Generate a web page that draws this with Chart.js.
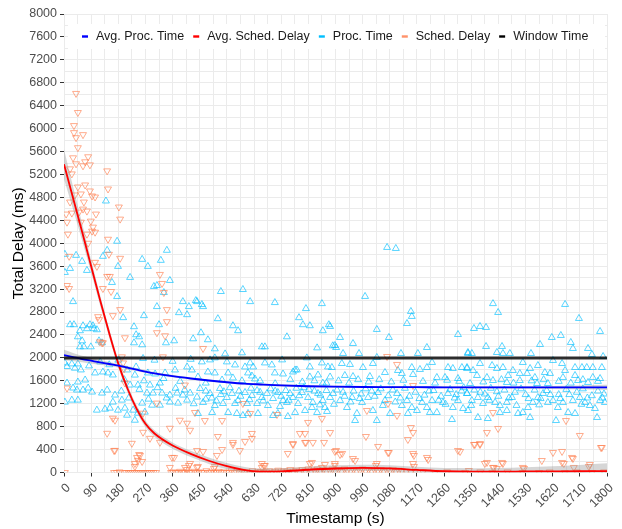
<!DOCTYPE html>
<html>
<head>
<meta charset="utf-8">
<script src="https://cdn.jsdelivr.net/npm/chart.js@4/dist/chart.umd.min.js"></script>
<style>
html,body{margin:0;padding:0;background:#fff;}
#wrap{width:622px;height:529px;position:relative;}
</style>
</head>
<body>
<div id="wrap"><canvas id="c" width="622" height="529"></canvas></div>
<script>
// ---------- DATA ----------
const seriesNames = ["Avg. Proc. Time", "Avg. Sched. Delay", "Proc. Time", "Sched. Delay", "Window Time"];
const windowTime = 2000;
const xTickStep = 90;
const yTickStep = 400;

const smoothTs = [0,30,60,90,120,150,180,210,240,270,300,360,420,480,540,600,660,720,810,900,990,1080,1170,1260,1350,1440,1530,1620,1710,1800];
const avgSchedDelay = [5380,4790,4200,3600,3000,2430,1900,1470,1120,850,680,470,325,205,110,42,14,18,48,70,80,72,45,22,15,15,18,20,22,25];
const avgSchedSE = [260,200,150,110,90,75,70,65,60,58,56,55,55,55,55,55,55,55,55,55,55,55,55,55,60,65,75,90,110,135];
const avgProcTime = [2050,2015,1980,1950,1920,1893,1865,1830,1795,1760,1730,1680,1640,1605,1575,1550,1535,1520,1505,1497,1492,1490,1488,1487,1486,1485,1485,1485,1485,1485];
const avgProcSE = [90,70,58,50,42,36,32,28,25,23,22,20,19,18,18,18,18,18,18,18,18,18,18,18,19,20,22,26,33,45];

const procTime = [
[139,4737],[176,4035],[3,3807],[40,3789],[143,3877],[129,3772],[60,3684],[20,3561],[76,3526],[179,3596],[159,3316],[259,3719],[278,3596],[341,3877],[321,3702],[3,3491],[219,3404],[176,3070],[298,3246],[308,3263],[351,3351],[331,3140],[30,2982],[196,2702],[265,2737],[308,2895],[394,2982],[437,3000],[414,2895],[381,2789],[408,2754],[20,2579],[33,2579],[63,2561],[86,2579],[96,2561],[76,2509],[99,2509],[109,2491],[232,2544],[315,2579],[53,2474],[46,2368],[60,2298],[116,2298],[239,2404],[249,2368],[428,2333],[53,2193],[66,2193],[89,2193],[126,2263],[232,2263],[259,2228],[338,2263],[365,2298],
[3,1912],[26,1895],[46,1895],[103,1737],[129,1754],[146,1737],[162,1702],[209,1789],[239,1842],[278,1737],[302,1719],[335,1737],[368,1789],[408,1842],[424,1789],[10,1561],[46,1579],[70,1614],[30,1474],[43,1439],[63,1439],[80,1474],[93,1404],[126,1386],[143,1439],[169,1351],[219,1526],[245,1526],[285,1526],[318,1561],[275,1386],[295,1386],[325,1386],[351,1351],[375,1386],[394,1351],[418,1386],[441,1316],[3,1228],[26,1263],[46,1263],[109,1088],[136,1105],[152,1123],[179,1088],[202,1123],[229,1088],[162,1228],[192,1263],[259,1211],[292,1175],[318,1175],[351,1228],[378,1211],[408,1263],[209,1000],[235,912],[245,1035],[268,1053],
[262,1990],[300,1960],[360,1940],[420,1975],[180,1960],[120,1930],[10,1850],[36,1820],[56,1790],[83,1860],[150,1880],
[520,3158],[593,3193],[617,2982],[441,2982],[457,2930],[461,2895],[699,2965],[802,2860],[855,2947],[510,2684],[779,2702],[560,2561],[577,2474],[792,2579],[815,2561],[878,2579],[454,2439],[477,2316],[739,2368],[858,2474],[500,2158],[590,2088],[656,2193],[666,2193],[839,2175],[891,2211],
[457,1930],[484,1965],[500,2000],[534,2070],[540,1930],[567,1877],[600,1842],[617,1912],[627,1842],[666,1912],[689,1877],[723,1965],[766,1789],[805,2000],[815,1842],[855,1912],[875,1842],
[444,1667],[477,1754],[500,1737],[524,1614],[544,1737],[610,1737],[623,1684],[633,1632],[699,1737],[726,1719],[759,1754],[772,1789],[815,1667],[842,1702],[858,1561],[882,1667],
[451,1466],[484,1379],[517,1466],[540,1309],[557,1379],[577,1257],[600,1396],[623,1344],[640,1431],[656,1309],[673,1379],[693,1291],[709,1396],[726,1257],[749,1379],[759,1309],[789,1396],[809,1309],[825,1222],[842,1379],[858,1257],[882,1309],[461,1222],[500,1169],[527,1204],[567,1204],[607,1204],[640,1204],[676,1169],[716,1152],[739,1222],[776,1204],[822,1134],[865,1134],
[444,1030],[491,1047],[544,1047],[573,1030],[593,995],[610,1030],[643,1030],[693,995],[709,1030],[742,977],[766,1047],[799,1082],[839,1047],[872,1065],
[1071,3927],[1100,3909],[998,3072],[1150,2810],[1153,2723],[1137,2600],[882,2548],[1037,2496],[1077,2356],[1306,2408],[915,2356],[898,2216],[902,2181],[958,2251],[1203,2181],[925,2077],[978,2077],[1037,2007],[1117,2077],[1173,2077],[1339,2077],
[888,1832],[921,1902],[948,1885],[931,1693],[958,1675],[991,1832],[1014,1675],[1024,1902],[1064,1745],[1107,1780],[1120,1728],[1153,1832],[1180,1798],[1203,1832],[1220,1920],[1236,1658],[1273,1832],[1289,1815],[1319,1832],[1336,1815],[1157,1710],[1263,1658],[1306,1640],
[892,1379],[915,1257],[938,1134],[955,1309],[971,1030],[988,1222],[1008,1309],[1024,1082],[1041,1396],[1064,1257],[1081,1030],[1104,1379],[1120,1169],[1137,1257],[1153,1134],[1170,1082],[1187,1222],[1203,1134],[1220,1257],[1236,1047],[1256,1222],[1273,1379],[1289,1134],[1306,1257],[1323,1117],[1336,1379],[965,907],[1037,907],[1140,1030],[1213,1047],[1286,925],
[1422,2947],[1439,2792],[1661,2932],[1707,2688],[1359,2513],[1379,2548],[1399,2531],[1777,2461],[1617,2356],[1647,2391],[1399,2199],[1452,2199],[1578,2234],[1680,2269],[1687,2164],[1737,2164],[1339,2094],[1352,2077],[1435,2094],[1455,2077],[1478,2077],[1548,2077],[1750,2059],[1787,2024],
[1336,1832],[1356,1780],[1379,1902],[1419,1867],[1435,1815],[1455,1832],[1488,1780],[1511,1728],[1521,1920],[1545,1815],[1571,1867],[1594,1745],[1621,1955],[1651,1902],[1661,1780],[1694,1832],[1717,1832],[1733,1832],[1753,1832],[1783,1832],[1369,1693],[1402,1658],[1472,1693],[1535,1728],[1561,1658],[1611,1728],[1654,1658],[1694,1693],[1753,1658],[1346,1553],[1422,1605],[1468,1571],[1511,1605],[1568,1553],[1604,1553],[1704,1605],[1777,1640],[1737,1571],
[1336,1379],[1352,1257],[1372,1309],[1389,1204],[1405,1309],[1429,1222],[1445,1169],[1468,1222],[1485,1309],[1505,1030],[1521,1047],[1538,1134],[1554,1222],[1571,1309],[1588,1379],[1604,1222],[1621,1257],[1637,1134],[1654,1222],[1671,1047],[1687,1257],[1710,1309],[1727,1222],[1743,1169],[1760,1117],[1777,1257],[1793,1222],[1339,1082],[1372,960],[1405,942],[1445,1047],[1468,1082],[1545,960],[1631,907],[1694,1030],[1767,960],
[190,1420],[215,1300],[250,1450],[280,1280],[310,1480],[340,1300],[370,1470],[400,1440],[430,1200],[470,1420],[490,1300],[520,1360],[550,1480],[585,1330],[620,1470],[650,1400],[685,1460],[720,1330],[735,1430],[770,1470],[795,1480],[830,1420],[850,1350],[870,1430],[905,1440],[930,1330],[960,1420],[985,1370],[1000,1460],[1030,1330],[1050,1460],[1090,1440],[1115,1300],[1130,1470],[1165,1400],[1195,1350],[1225,1430],[1250,1330],[1280,1450],[1300,1360],[1325,1480],[1360,1440],[1395,1370],[1415,1470],[1440,1330],[1460,1440],[1495,1400],[1515,1460],[1530,1360],[1560,1440],[1580,1290],[1600,1430],[1640,1360],[1665,1450],[1700,1400],[1720,1460],[1750,1340],[1770,1420],[1790,1370],
[200,1620],[235,1700],[265,1600],[330,1640],[385,1590],[470,1560],[560,1650],[590,1600],[650,1600],[700,1550],[750,1620],[790,1580],[830,1600],[870,1560],[910,1600],[945,1560],[975,1620],[1010,1580],[1045,1620],[1085,1580],[1125,1610],[1190,1590],[1230,1560],[1270,1610],[1310,1590],[1390,1580],[1450,1620],[1490,1560],[1550,1600],[1590,1620],[1640,1590],[1680,1560],[1720,1620],[1770,1590],
[470,1280],[505,1250],[530,1410],[580,1420],[615,1270],[660,1250],[700,1420],[745,1260],[780,1340],[812,1450],[848,1180],[895,1190],[925,1400],[950,1230],[980,1290],[1020,1420],[1057,1170],[1075,1340],[1098,1230],[1145,1330],[1178,1290],[1210,1420],[1242,1260],[1265,1190],[1295,1300],[1318,1420],[1350,1170],[1380,1400],[1410,1260],[1435,1410],[1475,1300],[1500,1170],[1540,1290],[1575,1180],[1612,1360],[1645,1290],[1675,1360],[1715,1190],[1735,1300],[1785,1300]
];

const schedDelay = [
[40,6614],[46,6281],[33,6053],[33,5930],[40,5842],[63,5895],[46,5667],[30,5491],[70,5421],[80,5509],[63,5351],[86,5368],[40,5386],[20,5298],[26,5210],[143,5263],[146,4947],[46,4982],[70,5017],[36,4842],[56,4860],[86,4912],[93,4825],[103,4807],[20,4719],[66,4719],[63,4596],[7,4509],[26,4526],[50,4544],[76,4561],[106,4509],[182,4632],[186,4421],[10,4368],[56,4368],[89,4386],[96,4281],[93,4211],[103,4193],[13,4158],[76,4158],[80,4000],[146,4070],[17,3772],[103,3667],[149,3807],[186,3737],[109,3596],[143,3421],[152,3421],[10,3263],[17,3210],[129,3210],[156,3158],[186,2842],[113,2719],[116,2667],[162,2737],[119,2281],[126,2263],[129,2263],[341,2842],[325,3298],[331,3140],[318,3456],[308,2439],[335,2386],[341,2632],[202,2351],[192,2018],[328,2018],[10,1474],[202,1561],[162,947],[169,912],[262,1035],[308,1211],[401,1526],[384,912],[408,860],[418,737],[143,684],[285,596],[318,526],[262,702],[351,772],[169,386],[225,509],[252,298],[245,211],[235,158],[358,263],[418,158],[401,88],[351,88],[196,1912],[199,1807],
[461,2164],[434,1047],[467,907],[593,1204],[617,1030],[524,907],[706,1012],[809,873],[855,942],[510,628],[560,524],[623,681],[623,593],[600,541],[524,401],[583,384],[441,384],[759,506],[782,681],[799,681],[799,524],[825,524],[742,332],[882,698],[444,105],[500,105],[656,157],[666,122],[822,175],[865,140],
[1071,2024],[1104,1885],[1157,1518],[1074,1204],[1104,995],[1004,1082],[1001,628],[1150,785],[1157,698],[1140,576],[1041,454],[902,384],[922,332],[1074,349],[1157,332],[1203,262],[958,244],[1306,384],[898,157],[1037,157],[1157,157],
[1422,1047],[1664,907],[1402,698],[1439,768],[1710,646],[1362,489],[1379,506],[1783,436],[1621,349],[1651,367],[1684,262],[1402,175],[1452,175],[1584,209],[1651,175],[1521,88],[1743,140],[1422,88],[1435,70],
[166,384],[249,314],[242,262],[259,192],[235,105],[365,262],[414,122],[441,88],[408,52],[461,367],[507,297],[560,489],[497,70],[663,122],[656,88],[759,489],[802,524],[862,524],[815,157],[855,88],[898,367],[915,314],[898,122],[965,209],[1034,122],[1077,349],[1160,297],[1160,105],[1207,227],[1313,367],[1342,35],[1359,489],[1379,489],[1395,157],[1425,88],[1455,157],[1525,70],[1657,157],[1690,88],[1687,244],[1740,105],[1780,436],
[3,0],[166,0],[175,0],[184,10],[199,0],[206,0],[213,0],[220,0],[227,0],[234,0],[241,0],[248,0],[255,0],[262,0],[269,0],[276,0],[283,0],[290,0],[297,0],[305,0],
[355,0],[362,10],[370,0],[378,0],[385,20],[393,0],[400,0],[408,10],[416,0],[424,0],[432,20],[440,0],[448,10],[456,0],[464,0],[472,30],[480,0],[488,10],[496,0],[505,0],[513,20],[521,0],[530,10],[538,0],[547,0],[555,30],[564,0],[572,10],[581,0],[590,20],[598,0],[607,10],[616,0],[625,30],[634,0],[643,10],[652,20],[661,0],[670,10],[680,30],[690,0],[700,20],[710,40],[720,10],[730,30],[740,20],[750,50],[760,20],[770,40],[780,10],[790,50],[800,30],[810,60],[820,20],[830,40],[840,60],[850,30],[860,50],[870,20],[880,40],[890,60],[900,30],[910,50],[920,20],[930,60],[940,40],[950,30],[960,50],[970,20],[980,40],[990,60],[1000,30],[1010,50],[1020,20],[1030,40],[1040,30],[1050,50],[1060,20],[1070,40],[1080,30],[1090,50],[1100,20],[1110,40],[1120,30],[1135,20],[1150,10],[1165,20],
[1190,10],[1230,0],[1270,10],[1330,0],[1380,10],[1420,0],[1470,10],[1520,0],[1575,0],[1610,10],[1660,0],[1700,10],[1750,0],[1790,10]
];

// ---------- STYLE ----------
const FONT = "'Liberation Sans', Arial, Helvetica, sans-serif";
const C_BLUE = '#0000FF', C_RED = '#FF0000', C_CYAN = '#00BFFF', C_BLACK = '#000000';
const legendColors = [C_BLUE, C_RED, C_CYAN, 'rgba(255,127,80,0.85)', C_BLACK];

const toXY = arr => arr.map(p => ({x: p[0], y: p[1]}));
const curve = vals => smoothTs.map((t, i) => ({x: t, y: vals[i]}));
const bandUp = (vals, se) => smoothTs.map((t, i) => ({x: t, y: vals[i] + se[i]}));
const bandLo = (vals, se) => smoothTs.map((t, i) => ({x: t, y: vals[i] - se[i]}));

const bandFill = 'rgba(153,153,153,0.4)';
const datasets = [
  {label: 'Window Time', type: 'line', data: [{x: 0, y: windowTime}, {x: 1800, y: windowTime}],
   borderColor: 'rgba(0,0,0,0.82)', borderWidth: 3, pointRadius: 0, order: 0},
  {label: 'Avg. Proc. Time', type: 'line', data: curve(avgProcTime), borderColor: C_BLUE, borderWidth: 1.8,
   pointRadius: 0, cubicInterpolationMode: 'monotone', order: 1},
  {label: 'Avg. Sched. Delay', type: 'line', data: curve(avgSchedDelay), borderColor: C_RED, borderWidth: 1.8,
   pointRadius: 0, cubicInterpolationMode: 'monotone', order: 1},
  {label: 'procUp', type: 'line', data: bandUp(avgProcTime, avgProcSE), borderWidth: 0, borderColor: 'rgba(0,0,0,0)',
   pointRadius: 0, cubicInterpolationMode: 'monotone', fill: false, order: 2},
  {label: 'procLo', type: 'line', data: bandLo(avgProcTime, avgProcSE), borderWidth: 0, borderColor: 'rgba(0,0,0,0)',
   pointRadius: 0, cubicInterpolationMode: 'monotone', fill: 3, backgroundColor: bandFill, order: 2},
  {label: 'schedUp', type: 'line', data: bandUp(avgSchedDelay, avgSchedSE), borderWidth: 0, borderColor: 'rgba(0,0,0,0)',
   pointRadius: 0, cubicInterpolationMode: 'monotone', fill: false, order: 2},
  {label: 'schedLo', type: 'line', data: bandLo(avgSchedDelay, avgSchedSE), borderWidth: 0, borderColor: 'rgba(0,0,0,0)',
   pointRadius: 0, cubicInterpolationMode: 'monotone', fill: 5, backgroundColor: bandFill, order: 2},
  {label: 'Sched. Delay', type: 'scatter', data: toXY(schedDelay), pointStyle: 'triangle', rotation: 180,
   pointRadius: 4, borderWidth: 1, borderColor: 'rgba(255,127,80,0.65)', backgroundColor: 'rgba(0,0,0,0)', order: 3},
  {label: 'Proc. Time', type: 'scatter', data: toXY(procTime), pointStyle: 'triangle',
   pointRadius: 4, borderWidth: 1, borderColor: 'rgba(0,191,255,0.65)', backgroundColor: 'rgba(0,0,0,0)', order: 4}
];

const legendPlugin = {
  id: 'ggLegend',
  afterDraw(chart) {
    const ctx = chart.ctx;
    ctx.save();
    ctx.fillStyle = '#ffffff';
    ctx.fillRect(68, 24, 537, 25);
    ctx.font = '12.5px ' + FONT;
    ctx.textBaseline = 'middle';
    ctx.textAlign = 'left';
    let x = 82;
    const yc = 36.5;
    seriesNames.forEach((name, i) => {
      ctx.fillStyle = legendColors[i];
      ctx.fillRect(x, yc - 1.2, 6, 2.4);
      ctx.fillStyle = '#1a1a1a';
      ctx.fillText(name, x + 14, yc);
      x += 14 + ctx.measureText(name).width + 9;
    });
    ctx.restore();
  }
};

new Chart(document.getElementById('c'), {
  type: 'scatter',
  data: {datasets},
  plugins: [legendPlugin],
  options: {
    responsive: false,
    animation: false,
    layout: {padding: {top: 14, right: 15, left: 0, bottom: 0}},
    plugins: {legend: {display: false}, tooltip: {enabled: false}},
    scales: {
      x: {
        type: 'linear', min: 0, max: 1800,
        afterFit(s) { s.height = 56.5; },
        border: {display: false},
        grid: {
          color: '#EBEBEB', lineWidth: 1, drawTicks: true, tickLength: 4, tickWidth: 1,
          tickColor: c => (c.tick && c.tick.value % xTickStep === 0) ? '#333333' : 'rgba(0,0,0,0)'
        },
        ticks: {
          stepSize: 45, autoSkip: false, maxRotation: 45, minRotation: 45, padding: 4, labelOffset: 4.5,
          color: '#4D4D4D', font: {family: FONT, size: 12.5},
          callback: v => (v % xTickStep === 0 ? String(v) : '')
        },
        title: {display: true, text: 'Timestamp (s)', color: '#000', font: {family: FONT, size: 15.5},
                padding: {top: 0, bottom: 1}}
      },
      y: {
        type: 'linear', min: 0, max: 8000,
        afterFit(s) { s.width = 64; },
        border: {display: false},
        grid: {
          color: '#EBEBEB', lineWidth: 1, drawTicks: true, tickLength: 4, tickWidth: 1,
          tickColor: c => (c.tick && c.tick.value % yTickStep === 0) ? '#333333' : 'rgba(0,0,0,0)'
        },
        ticks: {
          stepSize: 200, autoSkip: false, padding: 3,
          color: '#4D4D4D', font: {family: FONT, size: 12.5},
          callback: v => (v % yTickStep === 0 ? String(v) : '')
        },
        title: {display: true, text: 'Total Delay (ms)', color: '#000', font: {family: FONT, size: 15.5},
                padding: {top: 9, bottom: 0}}
      }
    }
  }
});
</script>
</body>
</html>
